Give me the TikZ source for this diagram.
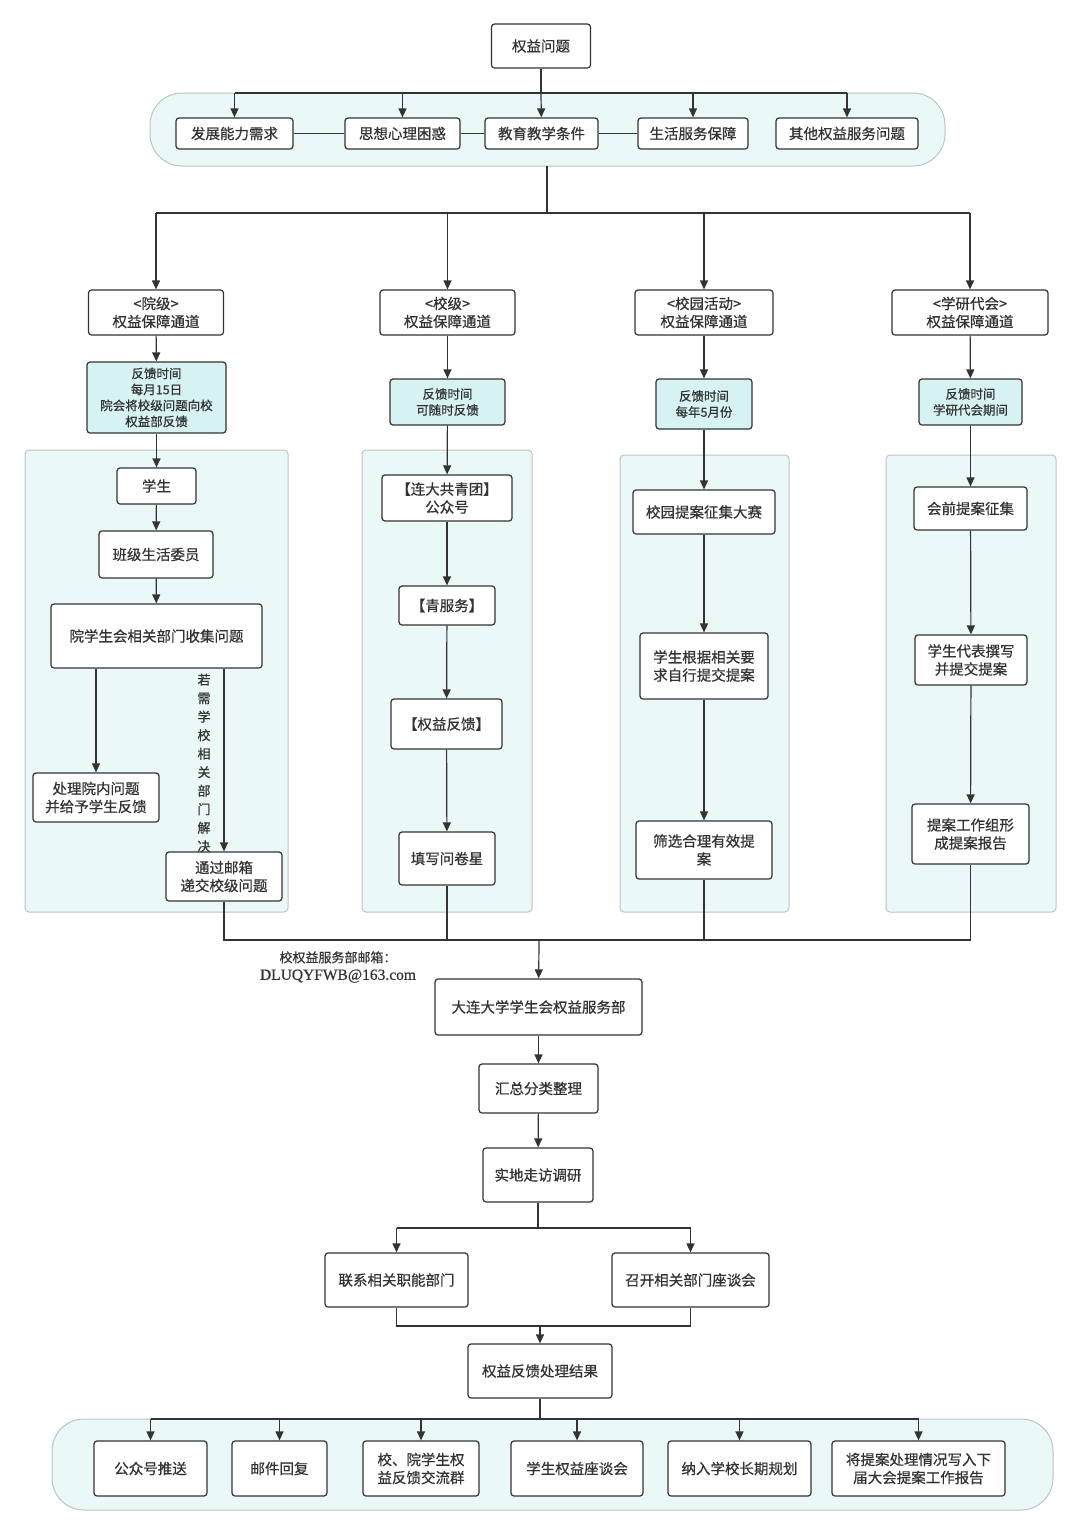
\documentclass[tikz,border=0pt]{standalone}
\usepackage{fontspec}
\setmainfont{Noto Sans CJK SC}[FakeBold=0.6]
\newfontfamily\mailfont{Liberation Serif}[FakeBold=0.6]
\usetikzlibrary{arrows.meta}

\definecolor{linegray}{HTML}{333333}
\definecolor{panelfill}{HTML}{EAF8F8}
\definecolor{panelline}{HTML}{BCC4C4}
\definecolor{timefill}{HTML}{D6F2F2}

\begin{document}
\begin{tikzpicture}[x=1pt,y=-1pt,
    box/.style={draw=linegray,line width=1.2pt,rounded corners=3pt,fill=white,align=center,text=linegray,inner sep=2pt,font=\fontsize{14.5}{18}\selectfont},
    timebox/.style={box,fill=timefill,font=\fontsize{12.5}{16}\selectfont},
    panel/.style={draw=panelline,line width=1pt,fill=panelfill,rounded corners=4pt},
    pill/.style={panel,rounded corners=32pt},
    link/.style={draw=linegray,line width=1.2pt},
    arrow/.style={link,-{Triangle[length=9pt,width=8pt]}}]

    \useasboundingbox (0,0) rectangle (1080,1535);

    \draw[pill] (150,93) rectangle (945,166);
    \draw[panel] (25,450) rectangle (288,912);
    \draw[panel] (362,450) rectangle (532,912);
    \draw[panel] (620,455) rectangle (789,912);
    \draw[panel] (886,455) rectangle (1056,912);
    \draw[pill] (52,1419) rectangle (1053,1510);

    \node[box,minimum width=99pt,minimum height=44pt] (issue) at (541,46) {权益问题};

    \node[box,minimum width=117pt,minimum height=31pt] (cat1) at (234.5,133.5) {发展能力需求};
    \node[box,minimum width=115pt,minimum height=31pt] (cat2) at (402.5,133.5) {思想心理困惑};
    \node[box,minimum width=113pt,minimum height=31pt] (cat3) at (541.5,133.5) {教育教学条件};
    \node[box,minimum width=110pt,minimum height=31pt] (cat4) at (693,133.5) {生活服务保障};
    \node[box,minimum width=142pt,minimum height=31pt] (cat5) at (847,133.5) {其他权益服务问题};

    \node[box,minimum width=135pt,minimum height=45pt] (chan1) at (156,312.5) {<院级>\\权益保障通道};
    \node[box,minimum width=135pt,minimum height=45pt] (chan2) at (447.5,312.5) {<校级>\\权益保障通道};
    \node[box,minimum width=138pt,minimum height=45pt] (chan3) at (704,312.5) {<校园活动>\\权益保障通道};
    \node[box,minimum width=156pt,minimum height=45pt] (chan4) at (970,312.5) {<学研代会>\\权益保障通道};

    \node[timebox,minimum width=139pt,minimum height=71pt] (time1) at (156.5,397.5) {反馈时间\\每月15日\\院会将校级问题向校\\权益部反馈};
    \node[timebox,minimum width=115pt,minimum height=46pt] (time2) at (447.5,402) {反馈时间\\可随时反馈};
    \node[timebox,minimum width=96pt,minimum height=50pt] (time3) at (704,404) {反馈时间\\每年5月份};
    \node[timebox,minimum width=103pt,minimum height=46pt] (time4) at (970.5,402) {反馈时间\\学研代会期间};

    \node[box,minimum width=79pt,minimum height=36pt] (student) at (156.5,486) {学生};
    \node[box,minimum width=114pt,minimum height=47pt] (monitor) at (156,554.5) {班级生活委员};
    \node[box,minimum width=211pt,minimum height=64pt] (collect) at (156.5,636) {院学生会相关部门收集问题};
    \node[box,minimum width=126pt,minimum height=49pt] (handle) at (96,797.5) {处理院内问题\\并给予学生反馈};
    \node[box,minimum width=116pt,minimum height=49pt] (mailbox) at (224,876.5) {通过邮箱\\递交校级问题};
    \node[text=linegray,align=center,font=\fontsize{13}{18.5}\selectfont] (reason) at (204,763) {若\\需\\学\\校\\相\\关\\部\\门\\解\\决};

    \node[box,minimum width=130pt,minimum height=46pt] (league) at (447,498) {【连大共青团】\\公众号};
    \node[box,minimum width=96pt,minimum height=39pt] (service) at (447,605.5) {【青服务】};
    \node[box,minimum width=111pt,minimum height=50pt] (feedback) at (446.5,724) {【权益反馈】};
    \node[box,minimum width=96pt,minimum height=53pt] (survey) at (447,858.5) {填写问卷星};

    \node[box,minimum width=142pt,minimum height=44pt] (contest) at (704,512) {校园提案征集大赛};
    \node[box,minimum width=128pt,minimum height=66pt] (submit) at (704,666) {学生根据相关要\\求自行提交提案};
    \node[box,minimum width=136pt,minimum height=58pt] (screen) at (704,850) {筛选合理有效提\\案};

    \node[box,minimum width=113pt,minimum height=43pt] (precollect) at (970.5,508.5) {会前提案征集};
    \node[box,minimum width=112pt,minimum height=50pt] (draft) at (971,660) {学生代表撰写\\并提交提案};
    \node[box,minimum width=117pt,minimum height=60pt] (report) at (970.5,834) {提案工作组形\\成提案报告};

    \node[text=linegray,align=center,font=\fontsize{13}{17.5}\selectfont] (mailnote) at (338,967) {校权益服务部邮箱：\\{\mailfont\fontsize{15.5}{17.5}\selectfont DLUQYFWB@163.com}};

    \node[box,minimum width=207pt,minimum height=56pt] (union) at (538.5,1007) {大连大学学生会权益服务部};
    \node[box,minimum width=119pt,minimum height=49pt] (sort) at (538.5,1088.5) {汇总分类整理};
    \node[box,minimum width=110pt,minimum height=54pt] (visit) at (538,1175) {实地走访调研};
    \node[box,minimum width=143pt,minimum height=54pt] (contact) at (396.5,1280) {联系相关职能部门};
    \node[box,minimum width=157pt,minimum height=54pt] (meeting) at (690.5,1280) {召开相关部门座谈会};
    \node[box,minimum width=144pt,minimum height=54pt] (result) at (540,1371) {权益反馈处理结果};

    \node[box,minimum width=113pt,minimum height=55pt] (out1) at (150.5,1468.5) {公众号推送};
    \node[box,minimum width=95pt,minimum height=55pt] (out2) at (279.5,1468.5) {邮件回复};
    \node[box,minimum width=116pt,minimum height=55pt] (out3) at (421,1468.5) {校、院学生权\\益反馈交流群};
    \node[box,minimum width=132pt,minimum height=55pt] (out4) at (577,1468.5) {学生权益座谈会};
    \node[box,minimum width=143pt,minimum height=55pt] (out5) at (739.5,1468.5) {纳入学校长期规划};
    \node[box,minimum width=173pt,minimum height=55pt] (out6) at (918.5,1468.5) {将提案处理情况写入下\\届大会提案工作报告};

    \coordinate (catbus) at (541,93);
    \draw[link] (issue) -- (catbus);
    \draw[link] (catbus -| cat1) -- (catbus -| cat5);
    \draw[arrow] (catbus -| cat1) -- (cat1);
    \draw[arrow] (catbus -| cat2) -- (cat2);
    \draw[arrow] (catbus) -- (cat3);
    \draw[arrow] (catbus -| cat4) -- (cat4);
    \draw[arrow] (catbus -| cat5) -- (cat5);
    \draw[link] (cat1) -- (cat2);
    \draw[link] (cat2) -- (cat3);
    \draw[link] (cat3) -- (cat4);

    \coordinate (pillfoot) at (547,166);
    \coordinate (chanbus) at (547,213);
    \draw[link] (pillfoot) -- (chanbus);
    \draw[link] (chanbus -| chan1) -- (chanbus -| chan4);
    \draw[arrow] (chanbus -| chan1) -- (chan1);
    \draw[arrow] (chanbus -| chan2) -- (chan2);
    \draw[arrow] (chanbus -| chan3) -- (chan3);
    \draw[arrow] (chanbus -| chan4) -- (chan4);

    \draw[arrow] (chan1) -- (time1);
    \draw[arrow] (chan2) -- (time2);
    \draw[arrow] (chan3) -- (time3);
    \draw[arrow] (chan4) -- (time4);

    \draw[arrow] (time1) -- (student);
    \draw[arrow] (student) -- (monitor);
    \draw[arrow] (monitor) -- (collect);
    \draw[arrow] (collect.south -| handle) -- (handle);
    \draw[arrow] (collect.south -| mailbox) -- (mailbox);

    \draw[arrow] (time2) -- (league);
    \draw[arrow] (league) -- (service);
    \draw[arrow] (service) -- (feedback);
    \draw[arrow] (feedback) -- (survey);

    \draw[arrow] (time3) -- (contest);
    \draw[arrow] (contest) -- (submit);
    \draw[arrow] (submit) -- (screen);

    \draw[arrow] (time4) -- (precollect);
    \draw[arrow] (precollect) -- (draft);
    \draw[arrow] (draft) -- (report);

    \coordinate (mergebus) at (539,940);
    \draw[link] (mailbox) -- (mailbox |- mergebus) -- (report |- mergebus) -- (report);
    \draw[link] (survey) -- (survey |- mergebus);
    \draw[link] (screen) -- (screen |- mergebus);
    \draw[arrow] (mergebus) -- (union);

    \draw[arrow] (union) -- (sort);
    \draw[arrow] (sort) -- (visit);

    \coordinate (splitbus) at (538,1228);
    \draw[link] (visit) -- (splitbus);
    \draw[link] (splitbus -| contact) -- (splitbus -| meeting);
    \draw[arrow] (splitbus -| contact) -- (contact);
    \draw[arrow] (splitbus -| meeting) -- (meeting);

    \coordinate (joinbus) at (540,1326);
    \draw[link] (contact) -- (contact |- joinbus) -- (meeting |- joinbus) -- (meeting);
    \draw[arrow] (joinbus) -- (result);

    \coordinate (outbus) at (540,1419);
    \draw[link] (result) -- (outbus);
    \draw[link] (outbus -| out1) -- (outbus -| out6);
    \draw[arrow] (outbus -| out1) -- (out1);
    \draw[arrow] (outbus -| out2) -- (out2);
    \draw[arrow] (outbus -| out3) -- (out3);
    \draw[arrow] (outbus -| out4) -- (out4);
    \draw[arrow] (outbus -| out5) -- (out5);
    \draw[arrow] (outbus -| out6) -- (out6);
\end{tikzpicture}
\end{document}
